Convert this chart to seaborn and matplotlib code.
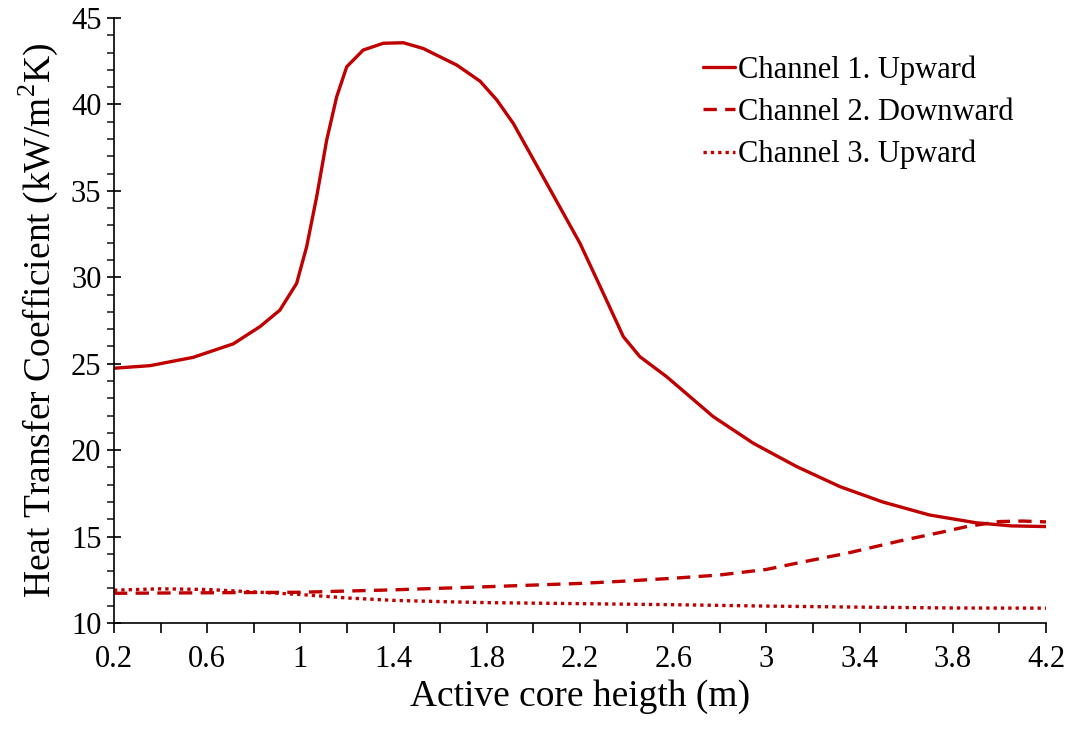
import matplotlib
matplotlib.use("Agg")
import matplotlib.pyplot as plt
import seaborn as sns
import pandas as pd
from matplotlib.ticker import MultipleLocator, FixedLocator

# Data
x1 = [0.2, 0.355, 0.54, 0.712, 0.827, 0.912, 0.984, 1.027, 1.07, 1.113, 1.156, 1.199,
      1.27, 1.356, 1.442, 1.527, 1.671, 1.771, 1.843, 1.914, 2.057, 2.2, 2.3, 2.386,
      2.457, 2.572, 2.772, 2.944, 3.13, 3.316, 3.5, 3.7, 3.9, 4.05, 4.2]
ch1 = [24.74, 24.89, 25.37, 26.15, 27.15, 28.1, 29.65, 31.77, 34.66, 37.94, 40.45, 42.18,
       43.15, 43.54, 43.57, 43.24, 42.28, 41.35, 40.26, 38.9, 35.44, 31.97, 29.08, 26.57,
       25.41, 24.25, 21.94, 20.4, 19.05, 17.89, 17.0, 16.25, 15.8, 15.62, 15.58]

x2 = [0.2, 0.6, 1.0, 1.4, 1.8, 2.2, 2.4, 2.6, 2.8, 3.0, 3.144, 3.35, 3.573, 3.75, 3.86,
      4.0, 4.1, 4.2]
ch2 = [11.72, 11.75, 11.78, 11.92, 12.1, 12.29, 12.43, 12.59, 12.78, 13.1, 13.5, 14.05,
       14.75, 15.25, 15.58, 15.87, 15.9, 15.85]

x3 = [0.2, 0.4, 0.6, 0.8, 1.0, 1.2, 1.4, 1.6, 1.8, 2.2, 2.6, 3.0, 3.4, 3.8, 4.2]
ch3 = [11.9, 11.98, 11.94, 11.8, 11.65, 11.45, 11.31, 11.24, 11.18, 11.12, 11.06, 10.98,
       10.92, 10.87, 10.86]

names = ["Channel 1. Upward", "Channel 2. Downward", "Channel 3. Upward"]
xtick_vals = [0.2, 0.6, 1.0, 1.4, 1.8, 2.2, 2.6, 3.0, 3.4, 3.8, 4.2]
xtick_labels = ["0.2", "0.6", "1", "1.4", "1.8", "2.2", "2.6", "3", "3.4", "3.8", "4.2"]

df = pd.concat([
    pd.DataFrame({"x": x1, "y": ch1, "series": names[0]}),
    pd.DataFrame({"x": x2, "y": ch2, "series": names[1]}),
    pd.DataFrame({"x": x3, "y": ch3, "series": names[2]}),
])

sns.set_style("white")
plt.rcParams["font.family"] = ["Liberation Serif", "DejaVu Serif"]
plt.rcParams["mathtext.fontset"] = "custom"
plt.rcParams["mathtext.rm"] = "Liberation Serif"
plt.rcParams["text.color"] = "black"
plt.rcParams["axes.labelcolor"] = "black"

fig = plt.figure(figsize=(10.67, 7.36), dpi=100)
ax = fig.add_axes([0.1068, 0.1535, 0.8735, 0.822])

red = "#C00000"
sns.lineplot(data=df, x="x", y="y", hue="series", style="series",
             palette={n: red for n in names},
             dashes={names[0]: "", names[1]: (4, 2.5), names[2]: (1, 1.2)},
             linewidth=2.4, ax=ax, sort=True, estimator=None)
for line in ax.get_lines():
    line.set_solid_joinstyle("round")

ax.set_xlim(0.2, 4.2)
ax.set_ylim(10, 45)
ax.xaxis.set_major_locator(FixedLocator(xtick_vals))
ax.set_xticklabels(xtick_labels)
ax.xaxis.set_minor_locator(MultipleLocator(0.2))
ax.yaxis.set_major_locator(MultipleLocator(5))
ax.yaxis.set_minor_locator(MultipleLocator(1))

for s in ["top", "right"]:
    ax.spines[s].set_visible(False)
for s in ["left", "bottom"]:
    ax.spines[s].set_color("black")
    ax.spines[s].set_linewidth(1.2)

ax.tick_params(axis="x", which="both", direction="out", length=7, width=1.2,
               bottom=True, labelsize=22, pad=9, colors="black")
ax.tick_params(axis="y", which="major", direction="inout", length=10, width=1.2,
               left=True, labelsize=22, pad=4, colors="black")
ax.tick_params(axis="y", which="minor", direction="out", length=5, width=1.2, left=True)
ax.tick_params(axis="x", which="minor", labelbottom=False)

ax.set_xlabel("Active core heigth (m)", fontsize=27, labelpad=4)
ax.set_ylabel("Heat Transfer Coefficient (kW/m$^2$K)", fontsize=27, labelpad=8)

leg = ax.legend(loc="upper left", bbox_to_anchor=(0.659, 0.925),
                bbox_transform=fig.transFigure, frameon=False, borderpad=0,
                borderaxespad=0, fontsize=22, handlelength=1.05, handletextpad=0.1,
                labelspacing=0.43)
for line in leg.get_lines():
    line.set_linewidth(2.4)

fig.savefig("out.png", dpi=100, facecolor="white")
